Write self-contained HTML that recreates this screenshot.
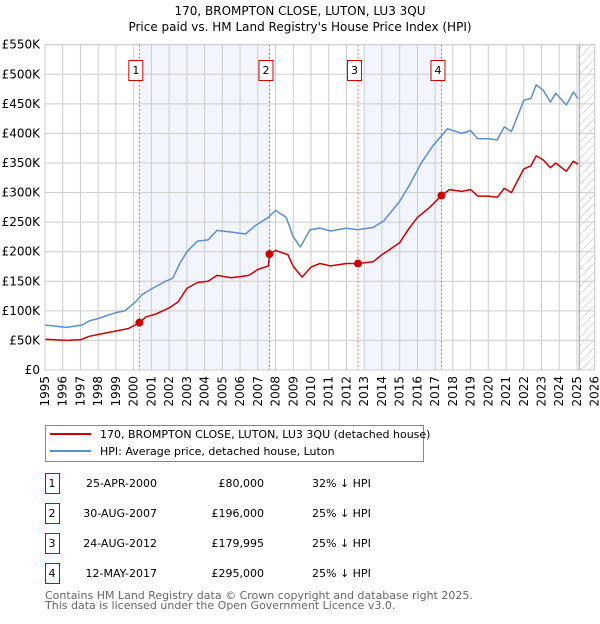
<!DOCTYPE html>
<html><head><meta charset="utf-8">
<style>
body{margin:0;background:#fff;font-family:"DejaVu Sans","Liberation Sans",sans-serif;}
svg text{font-family:"DejaVu Sans","Liberation Sans",sans-serif;}
</style></head>
<body>
<svg id="chart" width="600" height="620" viewBox="0 0 600 620" xmlns="http://www.w3.org/2000/svg">
<defs>
<pattern id="hatch" patternUnits="userSpaceOnUse" width="6" height="6" patternTransform="rotate(45)">
<line x1="0" y1="0" x2="0" y2="6" stroke="#bbb" stroke-width="1"/>
</pattern>
</defs>
<text x="300" y="15" text-anchor="middle" font-size="12">170, BROMPTON CLOSE, LUTON, LU3 3QU</text>
<text x="300" y="31" text-anchor="middle" font-size="12">Price paid vs. HM Land Registry's House Price Index (HPI)</text>
<g id="plot"></g>
<g>
<rect x="45.5" y="425.5" width="378" height="36" fill="#fff" stroke="#888"/>
<line x1="50" y1="434" x2="91" y2="434" stroke="#cc0000" stroke-width="2"/>
<text x="100" y="438" font-size="11">170, BROMPTON CLOSE, LUTON, LU3 3QU (detached house)</text>
<line x1="50" y1="451" x2="91" y2="451" stroke="#5b8fd0" stroke-width="2"/>
<text x="100" y="455" font-size="11">HPI: Average price, detached house, Luton</text>
</g>
<g id="table" font-size="11"></g>
<text x="45" y="599" font-size="11" fill="#666">Contains HM Land Registry data © Crown copyright and database right 2025.</text>
<text x="45" y="609" font-size="11" fill="#666">This data is licensed under the Open Government Licence v3.0.</text>
</svg>
<script>
const hpiYears=[1995,1996.2,1997.1,1997.5,1998,1999,1999.5,2000.1,2000.5,2001,2001.8,2002.2,2002.6,2003,2003.6,2004.2,2004.7,2005.6,2006.3,2006.9,2007.6,2008,2008.6,2009,2009.4,2009.95,2010.5,2011.1,2012,2012.6,2013.5,2014.1,2015,2015.6,2016.2,2016.9,2017.7,2018.5,2019,2019.4,2020,2020.5,2020.9,2021.3,2022,2022.4,2022.7,2023.1,2023.5,2023.8,2024.4,2024.8,2025.05];
const hpiValues=[76,72,76,83,87,97,100,115,128,137,150,155,180,200,218,220,236,233,230,245,258,270,258,225,208,237,240,235,240,237,241,252,285,315,349,380,408,400,405,391,391,389,411,403,456,459,482,473,453,468,448,470,459];
const paidYears=[1995,1996.2,1997,1997.5,1998,1999,1999.7,2000.32,2000.7,2001.2,2002,2002.5,2003,2003.6,2004.2,2004.7,2005.5,2006,2006.5,2007,2007.6,2007.66,2008,2008.7,2009,2009.5,2010,2010.5,2011.1,2012,2012.65,2013.5,2014,2014.5,2015,2015.5,2016,2016.7,2017.36,2017.8,2018.5,2019,2019.4,2020,2020.5,2020.9,2021.3,2022,2022.4,2022.7,2023.1,2023.5,2023.8,2024.4,2024.8,2025.05];
const paidValues=[52,50,51,57,60,66,70,80,90,94,105,115,138,148,150,160,156,158,160,170,176,196,202,195,175,157,174,180,176,180,180,183,195,205,215,238,258,275,295,305,302,305,294,294,292,307,300,340,345,362,355,342,350,336,353,348];
const saleLabels=["1","2","3","4"];
const saleYears=[2000.32,2007.66,2012.65,2017.36];
const saleValues=[80,196,180,295];
const saleDates=["25-APR-2000","30-AUG-2007","24-AUG-2012","12-MAY-2017"];
const salePrices=["£80,000","£196,000","£179,995","£295,000"];
const saleDiffs=["32% ↓ HPI","25% ↓ HPI","25% ↓ HPI","25% ↓ HPI"];
const shadeStarts=[2000.32,2013.0];
const shadeEnds=[2007.66,2017.36];
const yTicks=[0,50,100,150,200,250,300,350,400,450,500,550];
const yTickLabels=["£0","£50K","£100K","£150K","£200K","£250K","£300K","£350K","£400K","£450K","£500K","£550K"];
const xTicks=[1995,1996,1997,1998,1999,2000,2001,2002,2003,2004,2005,2006,2007,2008,2009,2010,2011,2012,2013,2014,2015,2016,2017,2018,2019,2020,2021,2022,2023,2024,2025,2026];
const dataEnd=2025.13;

const X0=45,X1=594.7,Y0=370,Y1=44.7,xMin=1995,xMax=2026,yMax=550;
const sx=v=>X0+(v-xMin)/(xMax-xMin)*(X1-X0);
const sy=v=>Y0-v/yMax*(Y0-Y1);
const NS="http://www.w3.org/2000/svg";
const plot=document.getElementById('plot');
function mk(tag,attrs,parent){const e=document.createElementNS(NS,tag);for(const k in attrs)e.setAttribute(k,attrs[k]);(parent||plot).appendChild(e);return e;}

shadeStarts.forEach((s,i)=>{
  const r=mk('rect',{x:sx(s),y:Y1,width:sx(shadeEnds[i])-sx(s),height:Y0-Y1,fill:'#f2f5fd'});
  
  
});
const h=mk('rect',{x:sx(dataEnd),y:Y1,width:X1-sx(dataEnd),height:Y0-Y1,fill:'url(#hatch)'});


yTicks.forEach((t,i)=>{
  const l=mk('line',{x1:X0,x2:X1,y1:sy(t),y2:sy(t),stroke:'#ccc','stroke-width':1});
  
  
  const tx=mk('text',{x:40,y:sy(t)+4,'text-anchor':'end','font-size':12});
  tx.textContent=yTickLabels[i];
  
  
});
xTicks.forEach(t=>{
  const l=mk('line',{x1:sx(t),x2:sx(t),y1:Y1,y2:Y0,stroke:'#ccc','stroke-width':1});
  
  
  const tx=mk('text',{x:0,y:0,'text-anchor':'end','font-size':12,transform:`translate(${sx(t)+4},376) rotate(-90)`});
  tx.textContent=t;
  
  
});
const ve=mk('line',{x1:sx(dataEnd),x2:sx(dataEnd),y1:Y1,y2:Y0,stroke:'#999','stroke-width':1});


saleYears.forEach((y,i)=>{
  const l=mk('line',{x1:sx(y),x2:sx(y),y1:Y1,y2:Y0,stroke:'#f06060','stroke-width':1,'stroke-dasharray':'2,2'});
  
  
  const b=mk('rect',{x:sx(y)-10.5,y:60.5,width:14,height:20,fill:'#fff',stroke:'#cc0000'});
  
  
  const t=mk('text',{x:sx(y)-3.5,y:74,'text-anchor':'middle','font-size':11});
  t.textContent=saleLabels[i];
  
  
});
function path(xs,vs,color,name){
  const d=xs.map((x,i)=>(i?'L':'M')+sx(x).toFixed(1)+','+sy(vs[i]).toFixed(1)).join('');
  const p=mk('path',{d,fill:'none',stroke:color,'stroke-width':1.5,'stroke-linejoin':'round'});
  
  
}
path(hpiYears,hpiValues,'#5b8fd0','hpi-line');
path(paidYears,paidValues,'#cc0000','price-paid-line');
saleYears.forEach((y,i)=>{
  const c=mk('circle',{cx:sx(y),cy:sy(saleValues[i]),r:4,fill:'#cc0000'});
  
  
});
const ax=mk('rect',{x:X0,y:Y1,width:X1-X0,height:Y0-Y1,fill:'none',stroke:'#ccc'});


const tb=document.getElementById('table');
saleLabels.forEach((s,i)=>{
  const cy=483+i*30;
  const r=mk('rect',{x:45.5,y:cy-9.5,width:14,height:20,fill:'#fff',stroke:'#cc0000'},tb);
  
  
  const cells=[[52,'middle',s],[157,'end',saleDates[i]],[264,'end',salePrices[i]],[312,'start',saleDiffs[i]]];
  cells.forEach(c=>{
    const t=mk('text',{x:c[0],y:cy+4,'text-anchor':c[1]},tb);
    t.textContent=c[2];
    
    
  });
});
</script>
</body></html>
